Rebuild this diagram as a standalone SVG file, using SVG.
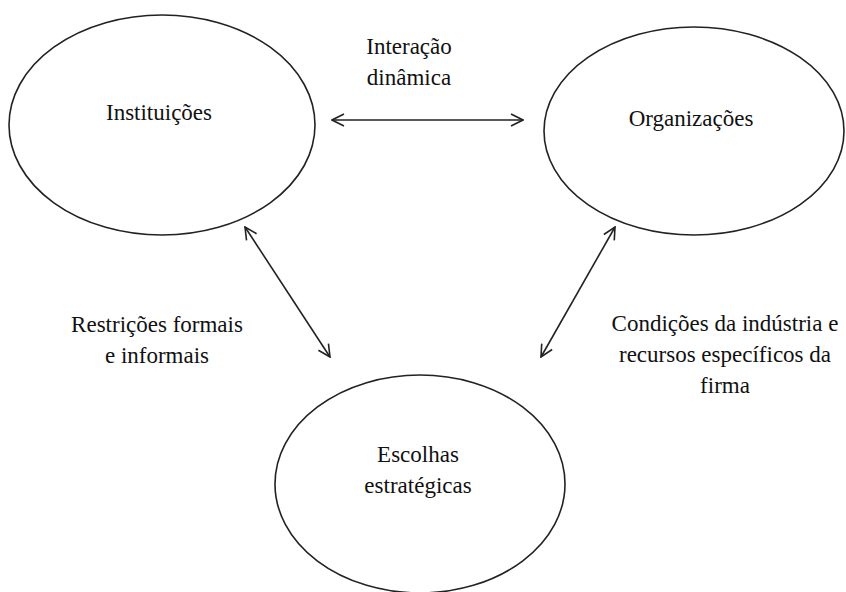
<svg xmlns="http://www.w3.org/2000/svg" width="846" height="592" viewBox="0 0 846 592">
<style>
.node ellipse{fill:#fff;stroke:#222;stroke-width:1.6}
.t{font-size:23px;fill:#111;text-anchor:middle}
.conn line{stroke:#222;stroke-width:1.6;fill:none}
</style>
<defs>
<marker id="ah" viewBox="0 0 14 14" refX="13" refY="7" markerWidth="14" markerHeight="14" markerUnits="userSpaceOnUse" orient="auto-start-reverse">
<path d="M1,1 L13,7 L1,13" fill="none" stroke="#222" stroke-width="1.6"/>
</marker>
</defs>
<rect width="846" height="592" fill="#fff"/>
<g font-family="Liberation Serif, serif">
<g id="instituicoes" class="node">
<ellipse cx="162" cy="125" rx="153" ry="110"/>
<text class="t" x="159" y="120">Instituições</text>
</g>
<g id="organizacoes" class="node">
<ellipse cx="694" cy="131" rx="150" ry="104"/>
<text class="t" x="691" y="126">Organizações</text>
</g>
<g id="escolhas" class="node">
<ellipse cx="420" cy="484" rx="145" ry="109"/>
<text class="t" x="418" y="462">Escolhas</text>
<text class="t" x="418" y="493">estratégicas</text>
</g>
<g id="connectors" class="conn">
<line x1="332" y1="120" x2="523" y2="120" marker-start="url(#ah)" marker-end="url(#ah)"/>
<line x1="245" y1="227" x2="330" y2="357" marker-start="url(#ah)" marker-end="url(#ah)"/>
<line x1="615" y1="227" x2="541" y2="357" marker-start="url(#ah)" marker-end="url(#ah)"/>
</g>
<g id="labels">
<text class="t" x="409" y="54">Interação</text>
<text class="t" x="409" y="85">dinâmica</text>
<text class="t" x="157" y="332">Restrições  formais</text>
<text class="t" x="157" y="363">e informais</text>
<text class="t" x="725" y="331">Condições da indústria e</text>
<text class="t" x="725" y="362">recursos específicos da</text>
<text class="t" x="725" y="393">firma</text>
</g>
</g>
</svg>
